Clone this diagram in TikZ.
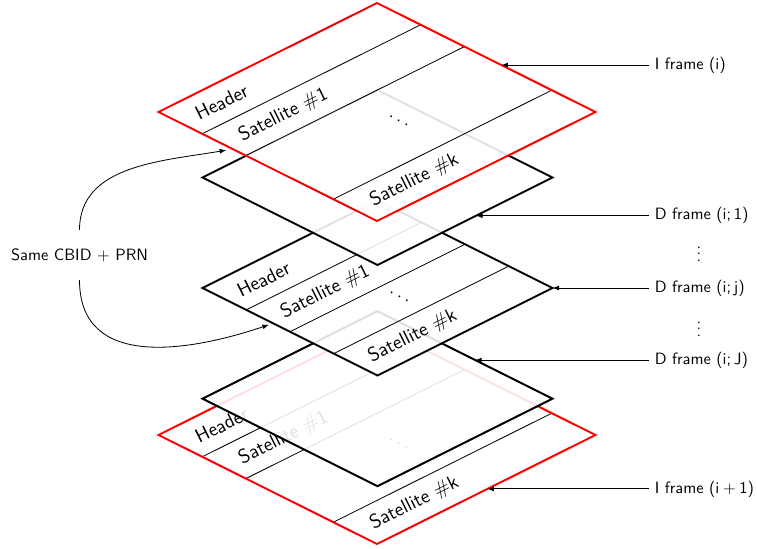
\documentclass[tikz,border=0pt]{standalone}
\usetikzlibrary{arrows.meta}
\begin{document}
\begin{tikzpicture}[x=0.61pt, y=-0.61pt, font=\sffamily,
  layerfill/.style={fill=white, fill opacity=0.88},
  iframe/.style={draw=red, line width=1.2pt},
  dframe/.style={draw=black, line width=1.2pt},
  divider/.style={draw=black, line width=0.5pt},
  cell/.style={rotate=26.565, anchor=west, font=\sffamily\large},
  celldots/.style={rotate=-26.565, font=\sffamily\large},
  ptr/.style={-{Latex[length=4pt,width=3pt]}, line width=0.6pt},
  bendptr/.style={-{Latex[length=4pt,width=3pt]}, line width=0.5pt},
  bigplane/.style={x={(133.285pt,-66.49pt)}, y={(133.285pt,66.49pt)}},
  smallplane/.style={x={(106.75pt,-53.375pt)}, y={(106.75pt,53.375pt)}},
  framelabel/.style={anchor=west},
]
\useasboundingbox (0,0) rectangle (757,549);

% I frame (i+1): bottom plane
\begin{scope}[shift={(158.5,435)}]\begin{scope}[bigplane]
  \path[layerfill] (0,0) -- (1,0) -- (1,1) -- (0,1) -- cycle;
  \draw[divider] (0.2,0) -- (0.2,1) (0.4,0) -- (0.4,1) (0.8,0) -- (0.8,1);
  \node[cell] (eHead) at (0.1,0.05) {Header};
  \node[cell] (eSat1) at (0.3,0.05) {Satellite \#1};
  \node[celldots] (eDots) at (0.59,0.51) {$\ldots$};
  \node[cell] (eSatk) at (0.9,0.05) {Satellite \#k};
  \draw[iframe] (0,0) -- (1,0) -- (1,1) -- (0,1) -- cycle;
  \coordinate (tipE) at (1,0.505);
\end{scope}\end{scope}

% D frame (i;J)
\begin{scope}[shift={(202.5,398.7)}]\begin{scope}[smallplane]
  \path[layerfill] (0,0) -- (1,0) -- (1,1) -- (0,1) -- cycle;
  \draw[dframe] (0,0) -- (1,0) -- (1,1) -- (0,1) -- cycle;
  \coordinate (tipD) at (0.558,1);
\end{scope}\end{scope}

% D frame (i;j)
\begin{scope}[shift={(202.5,288)}]\begin{scope}[smallplane]
  \path[layerfill] (0,0) -- (1,0) -- (1,1) -- (0,1) -- cycle;
  \draw[divider] (0.25,0) -- (0.25,1) (0.5,0) -- (0.5,1) (0.75,0) -- (0.75,1);
  \node[cell] (cHead) at (0.125,0.05) {Header};
  \node[cell] (cSat1) at (0.375,0.05) {Satellite \#1};
  \node[celldots] (cDots) at (0.615,0.51) {$\ldots$};
  \node[cell] (cSatk) at (0.875,0.05) {Satellite \#k};
  \draw[dframe] (0,0) -- (1,0) -- (1,1) -- (0,1) -- cycle;
  \coordinate (tipC) at (1,1);
  \coordinate (tgtC) at (0.4,-0.02);
\end{scope}\end{scope}

% D frame (i;1)
\begin{scope}[shift={(202.5,177.5)}]\begin{scope}[smallplane]
  \path[layerfill] (0,0) -- (1,0) -- (1,1) -- (0,1) -- cycle;
  \draw[dframe] (0,0) -- (1,0) -- (1,1) -- (0,1) -- cycle;
  \coordinate (tipB) at (1,0.563);
\end{scope}\end{scope}

% I frame (i): top plane
\begin{scope}[shift={(158.5,112)}]\begin{scope}[bigplane]
  \path[layerfill] (0,0) -- (1,0) -- (1,1) -- (0,1) -- cycle;
  \draw[divider] (0.2,0) -- (0.2,1) (0.4,0) -- (0.4,1) (0.8,0) -- (0.8,1);
  \node[cell] (aHead) at (0.1,0.05) {Header};
  \node[cell] (aSat1) at (0.3,0.05) {Satellite \#1};
  \node[celldots] (aDots) at (0.59,0.51) {$\ldots$};
  \node[cell] (aSatk) at (0.9,0.05) {Satellite \#k};
  \draw[iframe] (0,0) -- (1,0) -- (1,1) -- (0,1) -- cycle;
  \coordinate (tipA) at (0.569,1);
  \coordinate (tgtA) at (0.33,-0.02);
\end{scope}\end{scope}

% frame labels on the right
\coordinate (labx) at (649,0);
\node[framelabel] (lblA) at (labx |- tipA) {I frame (i)};
\node[framelabel] (lblB) at (labx |- tipB) {D frame (i;\,1)};
\node[framelabel] (lblC) at (labx |- tipC) {D frame (i;\,j)};
\node[framelabel] (lblD) at (labx |- tipD) {D frame (i;\,J)};
\node[framelabel] (lblE) at (labx |- tipE) {I frame (i${}+{}$1)};
\node (vdA) at (699,249) {$\vdots$};
\node (vdB) at (699,324) {$\vdots$};

\draw[ptr] (lblA.west) -- (tipA);
\draw[ptr] (lblB.west) -- (tipB);
\draw[ptr] (lblC.west) -- (tipC);
\draw[ptr] (lblD.west) -- (tipD);
\draw[ptr] (lblE.west) -- (tipE);

% shared CBID + PRN
\node[outer ysep=8pt] (same) at (79.5,255) {Same CBID $+$ PRN};
\draw[bendptr] (same.north) .. controls +(0,-65) and +(-64,11) .. (tgtA);
\draw[bendptr] (same.south) .. controls +(0,90) and +(-80,27) .. (tgtC);
\end{tikzpicture}
\end{document}
